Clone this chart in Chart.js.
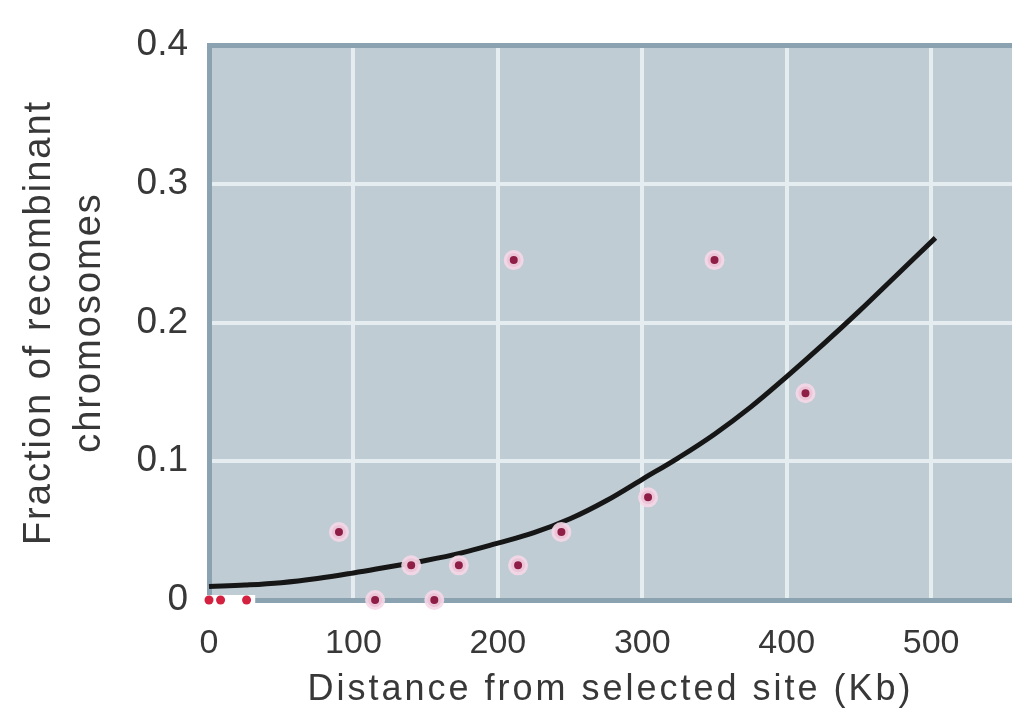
<!DOCTYPE html>
<html>
<head>
<meta charset="utf-8">
<script src="https://cdn.jsdelivr.net/npm/chart.js@4.4.1/dist/chart.umd.min.js"></script>
<style>
  body { margin: 0; background: #fff; }
  #wrap { width: 1012px; height: 710px; }
</style>
</head>
<body>
<div id="wrap"><canvas id="recombChart" width="1012" height="710"></canvas></div>
<script>
// --- DATA ---
const xTicks = [0, 100, 200, 300, 400, 500];
const yTicks = [0, 0.1, 0.2, 0.3, 0.4];

// measured points (with halo)
const pointX = [90, 115, 140, 156, 173, 211, 214, 244, 304, 350, 413];
const pointY = [0.049, 0, 0.025, 0, 0.025, 0.245, 0.025, 0.049, 0.074, 0.245, 0.149];

// small dots sitting on the axis near the origin
const edgeX = [0, 8, 26];
const edgeY = [0, 0, 0];

// fitted curve
const curveX = [0, 25, 50, 75, 100, 125, 150, 175, 200, 225, 250, 275, 300, 325, 350, 375, 400, 425, 450, 475, 503];
const curveY = [0.0098, 0.0108, 0.0125, 0.0155, 0.0195, 0.024, 0.0285, 0.034, 0.041, 0.0485, 0.0585, 0.0715, 0.087, 0.1025, 0.1195, 0.139, 0.161, 0.184, 0.208, 0.233, 0.261];

const xTitle = 'Distance from selected site (Kb)';
const yTitle = ['Fraction of recombinant', 'chromosomes'];

const textColor = '#383838';
const frameColor = '#8ba2b0';
const gridColor = '#e6edf1';

const toXY = (xs, ys) => xs.map((v, i) => ({ x: v, y: ys[i] }));

// --- PLOT BACKGROUND + TITLES ---
const decor = {
  id: 'decor',
  beforeDraw(chart) {
    const { ctx, chartArea: a } = chart;
    ctx.save();
    ctx.fillStyle = '#bfccd4';
    ctx.fillRect(a.left, a.top, a.right - a.left, a.bottom - a.top);
    ctx.restore();
  },
  beforeDatasetsDraw(chart) {
    // white gap in the frame just right of the origin
    const { ctx, scales: { x, y } } = chart;
    const x0 = x.getPixelForValue(-3);
    const x1 = x.getPixelForValue(32);
    const y0 = y.getPixelForValue(0);
    ctx.save();
    ctx.fillStyle = '#ffffff';
    ctx.fillRect(x0, y0 - 5, x1 - x0, 12);
    ctx.restore();
  },
  afterDraw(chart) {
    const { ctx, chartArea: a } = chart;
    ctx.save();
    ctx.fillStyle = textColor;
    ctx.textBaseline = 'alphabetic';
    ctx.textAlign = 'center';

    ctx.font = '36px "Liberation Sans", Arial, sans-serif';
    ctx.letterSpacing = '3px';
    ctx.fillText(xTitle, (a.left + a.right) / 2, 700);

    ctx.font = '38px "Liberation Sans", Arial, sans-serif';
    ctx.letterSpacing = '2px';
    ctx.translate(50, (a.top + a.bottom) / 2);
    ctx.rotate(-Math.PI / 2);
    yTitle.forEach((line, i) => ctx.fillText(line, 0, i * 50));
    ctx.restore();
  }
};

// --- CHART ---
const ctx = document.getElementById('recombChart');
const recombChart = new Chart(ctx, {
  type: 'scatter',
  data: {
    datasets: [
      {
        label: 'points',
        data: toXY(pointX, pointY),
        pointRadius: 7,
        pointBorderWidth: 6,
        pointBackgroundColor: '#8e1e45',
        pointBorderColor: 'rgba(246, 216, 232, 0.9)',
        clip: false
      },
      {
        label: 'edge',
        data: toXY(edgeX, edgeY),
        pointRadius: 4.5,
        pointBorderWidth: 0,
        pointBackgroundColor: '#d3213f',
        clip: false
      },
      {
        label: 'curve',
        data: toXY(curveX, curveY),
        showLine: true,
        borderColor: '#161616',
        borderWidth: 5,
        pointRadius: 0,
        tension: 0.4,
        clip: false
      }
    ]
  },
  options: {
    responsive: false,
    animation: false,
    layout: { autoPadding: false, padding: { top: 45, right: 0, bottom: 0, left: 0 } },
    plugins: {
      legend: { display: false },
      tooltip: { enabled: false }
    },
    scales: {
      x: {
        type: 'linear',
        min: 0,
        max: 556,
        afterBuildTicks: s => { s.ticks = xTicks.map(v => ({ value: v })); },
        afterFit: s => { s.height = 110; s.paddingLeft = 0; s.paddingRight = 0; },
        grid: {
          drawTicks: false,
          lineWidth: 4,
          color: c => (c.tick && c.tick.value === 0 ? 'rgba(0,0,0,0)' : gridColor)
        },
        border: { display: true, color: frameColor, width: 5 },
        ticks: {
          padding: 23,
          color: textColor,
          font: { family: '"Liberation Sans Narrow", "Arial Narrow", "Liberation Sans", sans-serif', size: 34 }
        }
      },
      y: {
        type: 'linear',
        min: 0,
        max: 0.4,
        afterBuildTicks: s => { s.ticks = yTicks.map(v => ({ value: v })); },
        afterFit: s => { s.width = 209; s.paddingTop = 0; s.paddingBottom = 0; },
        grid: {
          drawTicks: false,
          lineWidth: c => (c.tick && (c.tick.value === 0 || c.tick.value === 0.4) ? 5 : 4),
          color: c => (c.tick && (c.tick.value === 0 || c.tick.value === 0.4) ? frameColor : gridColor)
        },
        border: { display: true, color: frameColor, width: 5 },
        ticks: {
          padding: 21,
          color: textColor,
          font: { family: '"Liberation Sans", Arial, sans-serif', size: 37 }
        }
      }
    }
  },
  plugins: [decor]
});
</script>
</body>
</html>
